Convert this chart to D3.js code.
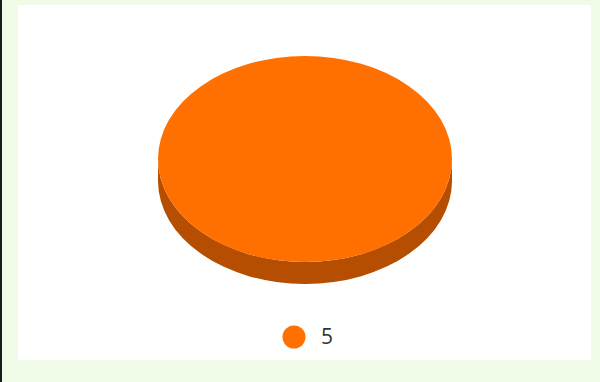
<!DOCTYPE html>
<html><head><meta charset="utf-8">
<script src="https://cdn.jsdelivr.net/npm/d3@7"></script>
<style>html,body{margin:0;padding:0;background:#effbe7;}svg{display:block;}</style>
</head><body>
<script>
const categories = ["5"];
const values = [5];
const colors = ["#ff7000"];
const sideColors = ["#b54e00"];

const W = 600, H = 382;
const svg = d3.select("body").append("svg").attr("width", W).attr("height", H);
svg.append("rect").attr("width", W).attr("height", H).attr("fill", "#effbe7");
svg.append("rect").attr("x", 0).attr("y", 0).attr("width", 2).attr("height", H).attr("fill", "#1a1a1a");
svg.append("rect").attr("x", 18).attr("y", 5).attr("width", 573).attr("height", 355).attr("fill", "#ffffff");

const cx = 305, cy = 159, rx = 147, ry = 103, depth = 22;
const pie = d3.pie().sort(null).value(d => d);
const arcs = pie(values);

function pt(a, dy) { return [cx + rx * Math.sin(a), cy - ry * Math.cos(a) + (dy || 0)]; }
function topPath(d) {
  const full = d.endAngle - d.startAngle >= 2 * Math.PI - 1e-6;
  if (full) {
    return `M${cx - rx},${cy} A${rx},${ry} 0 1,1 ${cx + rx},${cy} A${rx},${ry} 0 1,1 ${cx - rx},${cy} Z`;
  }
  const s = pt(d.startAngle), e = pt(d.endAngle);
  const large = d.endAngle - d.startAngle > Math.PI ? 1 : 0;
  return `M${cx},${cy} L${s[0]},${s[1]} A${rx},${ry} 0 ${large},1 ${e[0]},${e[1]} Z`;
}
function sidePath(d) {
  const a0 = Math.max(d.startAngle, Math.PI / 2), a1 = Math.min(d.endAngle, 3 * Math.PI / 2);
  if (a1 <= a0) return "";
  const s = pt(a0), e = pt(a1), sb = pt(a0, depth), eb = pt(a1, depth);
  const large = a1 - a0 > Math.PI ? 1 : 0;
  return `M${s[0]},${s[1]} A${rx},${ry} 0 ${large},1 ${e[0]},${e[1]} L${eb[0]},${eb[1]} A${rx},${ry} 0 ${large},0 ${sb[0]},${sb[1]} Z`;
}
const g = svg.append("g");
g.selectAll("path.side").data(arcs).join("path").attr("class", "side")
  .attr("d", sidePath).attr("fill", (d, i) => sideColors[i]);
g.selectAll("path.top").data(arcs).join("path").attr("class", "top")
  .attr("d", topPath).attr("fill", (d, i) => colors[i]);

const legend = svg.append("g");
categories.forEach((c, i) => {
  legend.append("circle").attr("cx", 294).attr("cy", 337).attr("r", 11.5).attr("fill", colors[i]);
  legend.append("text").attr("x", 321).attr("y", 344).attr("font-family", "'Open Sans', sans-serif")
    .attr("font-size", 21).attr("fill", "#333").text(c);
});
</script>
</body></html>
